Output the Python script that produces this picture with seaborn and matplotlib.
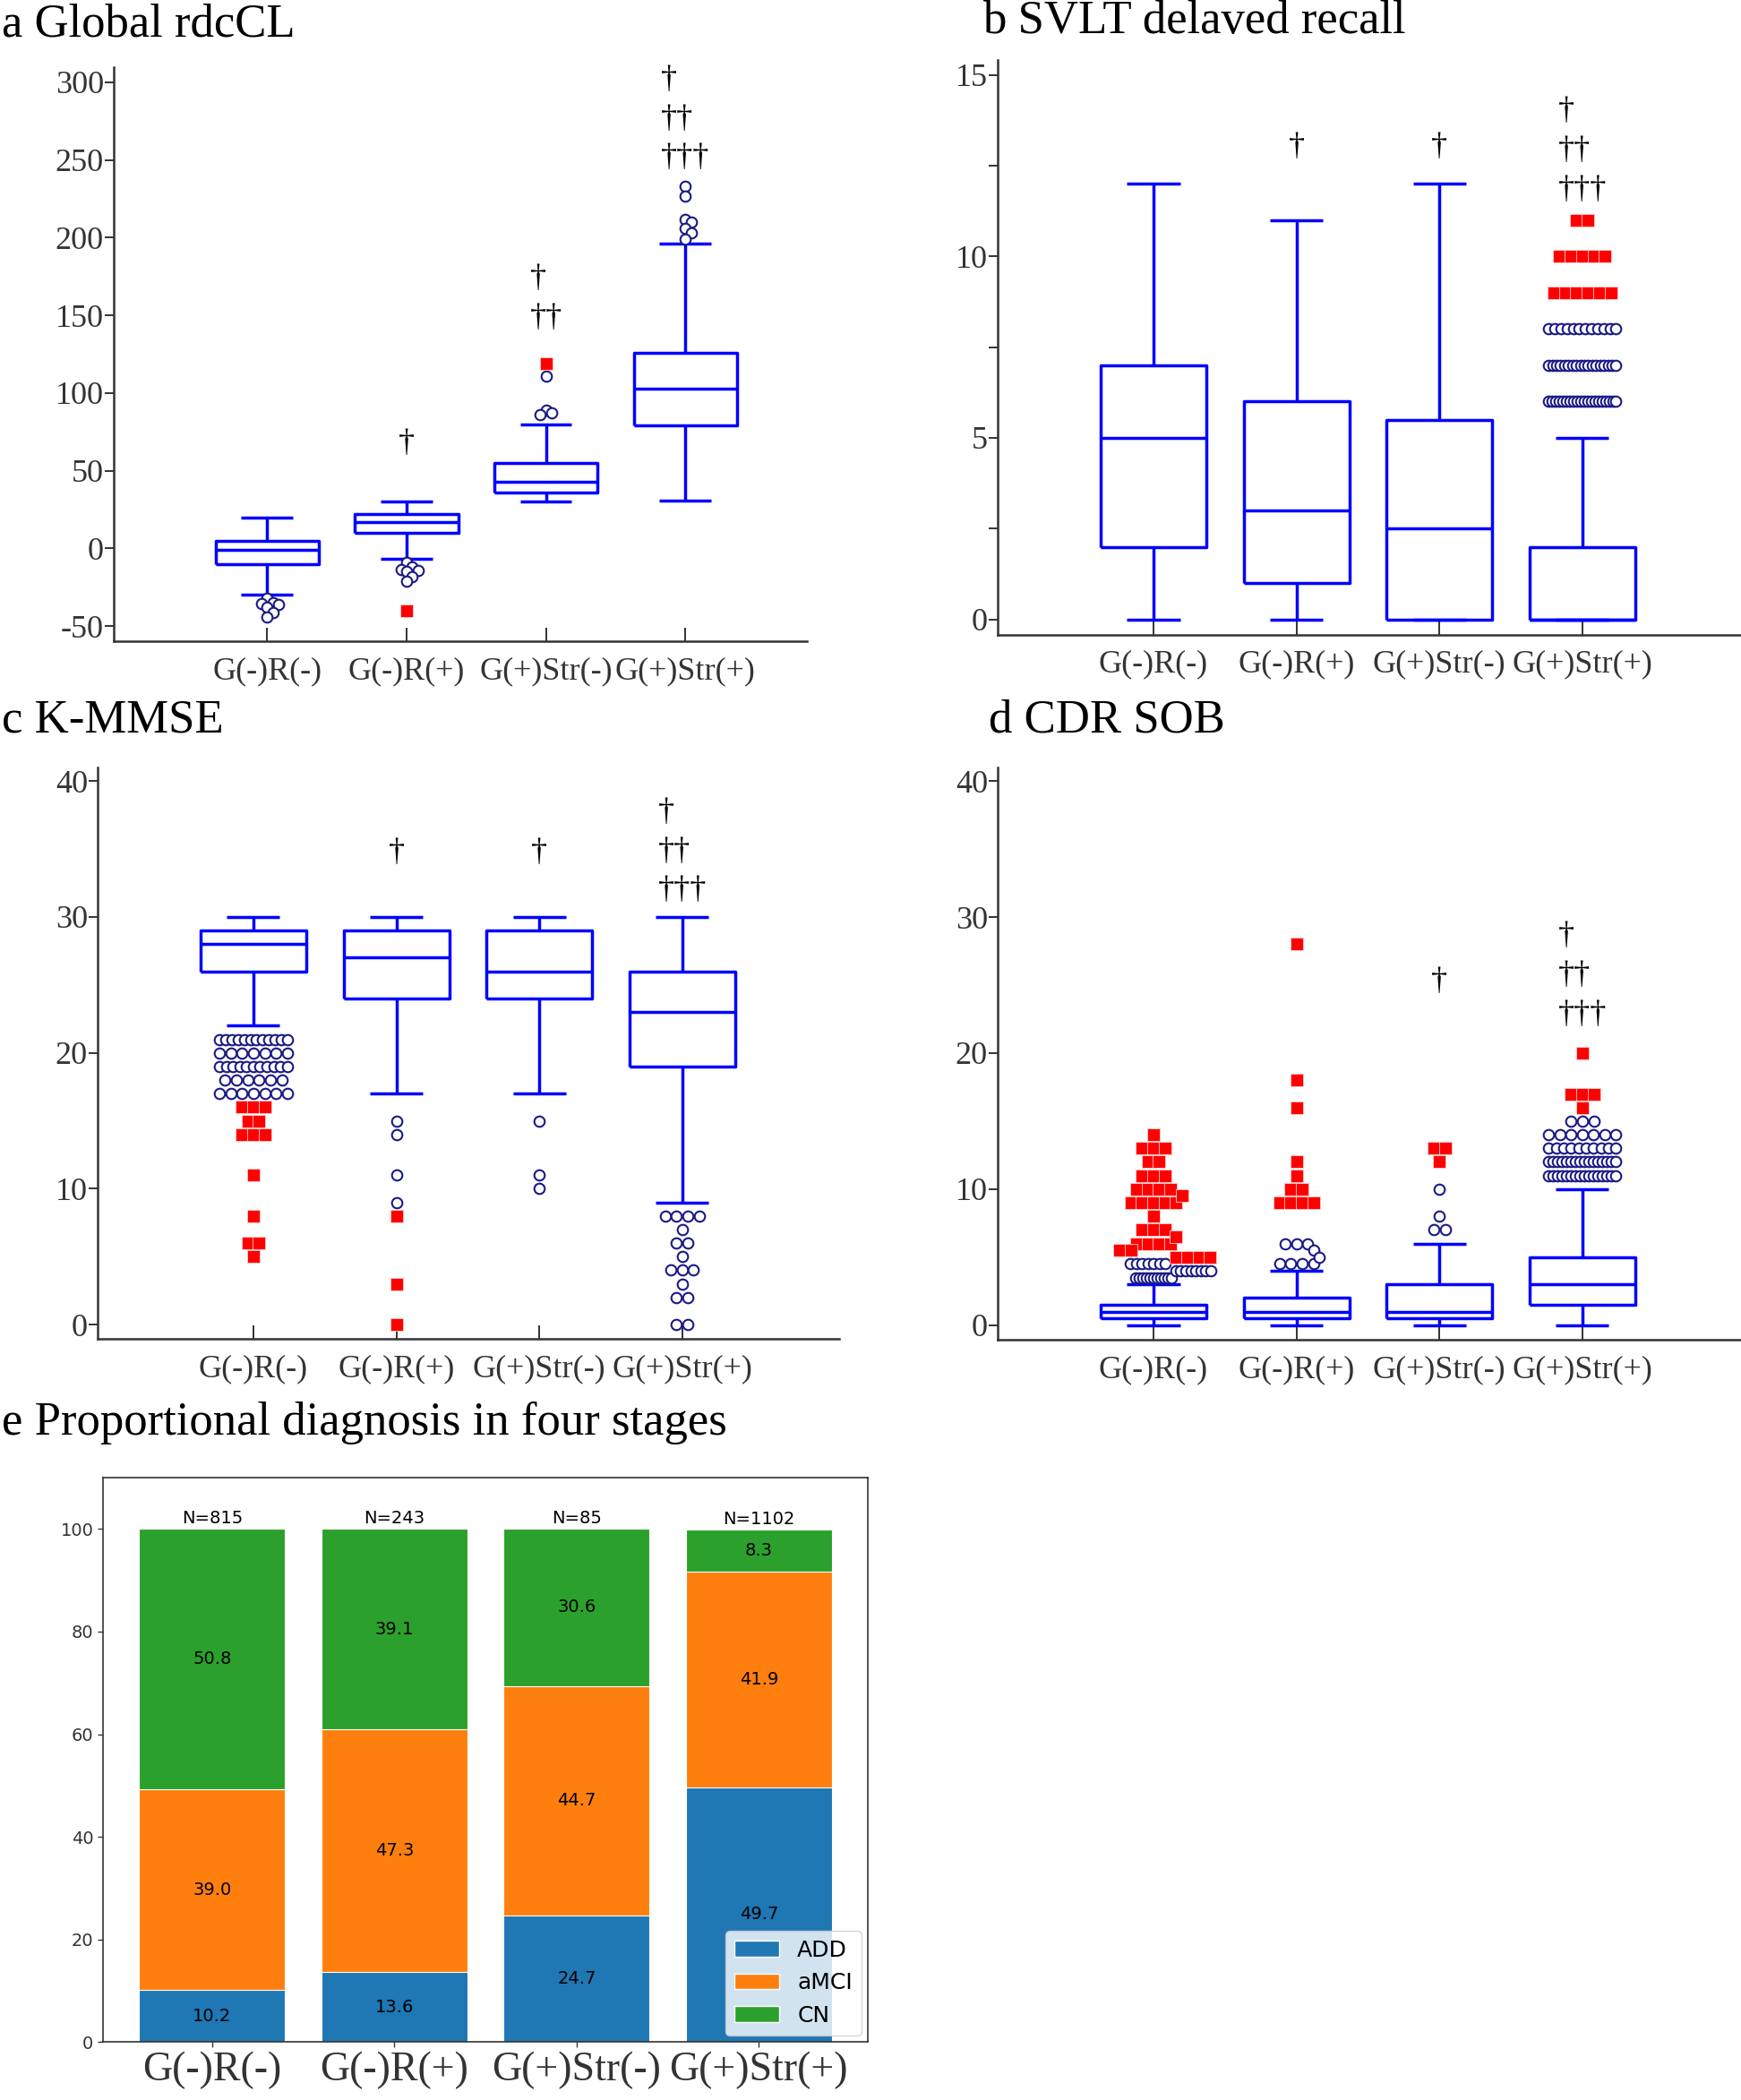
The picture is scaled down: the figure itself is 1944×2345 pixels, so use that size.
import numpy as np
import matplotlib
matplotlib.use("Agg")
import matplotlib.pyplot as plt
from matplotlib.patches import Patch
import seaborn as sns

sns.set_style("ticks", {"axes.edgecolor": "0.2", "text.color": "black",
                        "xtick.color": "0.2", "ytick.color": "0.2"})
plt.rcParams["font.family"] = ["Liberation Serif", "DejaVu Sans"]
plt.rcParams["axes.unicode_minus"] = False

groups = ["G(-)R(-)", "G(-)R(+)", "G(+)Str(-)", "G(+)Str(+)"]

# a  Global rdcCL
cl_whislo = [-30, -7, 30, 31]
cl_q1 = [-10, 10, 36, 79]
cl_med = [-1, 17, 43, 103]
cl_q3 = [5, 22, 55, 126]
cl_whishi = [20, 30, 80, 196]
cl_out = [[-32, -35, -35.5, -36, -38, -41.5, -44],
          [-9, -12, -13.5, -14, -15, -18, -21],
          [86, 87, 89, 111],
          [199, 203, 206, 210, 212, 227, 233]]
cl_far = [[], [-40], [119], []]
cl_marks = ["", "†", "†\n††", "†\n††\n†††"]
cl_marks_y = [0, 67.6, 160.8, 276.3]

# b  SVLT delayed recall
svlt_whislo = [0, 0, 0, 0]
svlt_q1 = [2, 1, 0, 0]
svlt_med = [5, 3, 2.5, 0]
svlt_q3 = [7, 6, 5.5, 2]
svlt_whishi = [12, 11, 12, 5]
svlt_out = [[], [], [], [6] * 20 + [7] * 18 + [8] * 12]
svlt_far = [[], [], [], [9] * 6 + [10] * 5 + [11] * 2]
svlt_marks = ["", "†", "†", "†\n††\n†††"]
svlt_marks_y = [0, 13.0, 13.0, 12.9]

# c  K-MMSE
mmse_whislo = [22, 17, 17, 9]
mmse_q1 = [26, 24, 24, 19]
mmse_med = [28, 27, 26, 23]
mmse_q3 = [29, 29, 29, 26]
mmse_whishi = [30, 30, 30, 30]
mmse_out = [[21] * 12 + [20] * 7 + [19] * 11 + [18] * 6 + [17] * 7,
            [15, 14, 11, 9],
            [15, 11, 10],
            [8] * 4 + [7] + [6] * 2 + [5] + [4] * 3 + [3] + [2] * 2 + [0] * 2]
mmse_far = [[16] * 3 + [15] * 2 + [14] * 3 + [11, 8, 6, 6, 5], [8, 3, 0], [], []]
mmse_marks = ["", "†", "†", "†\n††\n†††"]
mmse_marks_y = [0, 34.7, 34.7, 34.8]

# d  CDR SOB
cdr_whislo = [0, 0, 0, 0]
cdr_q1 = [0.5, 0.5, 0.5, 1.5]
cdr_med = [1, 1, 1, 3]
cdr_q3 = [1.5, 2, 3, 5]
cdr_whishi = [3, 4, 6, 10]
cdr_out = [[3.5] * 11 + [4] * 8 + [4.5] * 7,
           [6] * 3 + [5.5, 5] + [4.5] * 4,
           [10, 8, 7, 7],
           [15] * 3 + [14] * 7 + [13] * 10 + [12] * 16 + [11] * 16]
cdr_far = [[14] + [13] * 3 + [12] * 2 + [11] * 3 + [10] * 4 + [9.5] + [9] * 5 + [8]
           + [7] * 3 + [6.5] + [6] * 4 + [5.5] * 2 + [5] * 4,
           [28, 18, 16, 12, 11, 10, 10, 9, 9, 9, 9],
           [13, 13, 12],
           [20, 17, 17, 17, 16]]
cdr_marks = ["", "", "†", "†\n††\n†††"]
cdr_marks_y = [0, 0, 25.2, 25.7]

# e  proportional diagnosis
stage_add = [10.2, 13.6, 24.7, 49.7]
stage_amci = [39.0, 47.3, 44.7, 41.9]
stage_cn = [50.8, 39.1, 30.6, 8.3]
stage_n = [815, 243, 85, 1102]

BLUE = "#0000ff"
NAVY = "#1a1a85"
RED = "#ff0000"
W, H = 1944, 2345
fig = plt.figure(figsize=(W / 100, H / 100), dpi=100)


def px_axes(left, top, right, bottom):
    return fig.add_axes([left / W, 1 - bottom / H, (right - left) / W, (bottom - top) / H])


def outlier_points(ax, pos, mild, far, row_w=88, diam=12.7):
    # spread equal values sideways in rows, nudge rows that would collide
    (x0, y0), (x1, y1) = ax.transData.transform([(0, 0), (1, 1)])
    ux, uy = x1 - x0, y1 - y0
    rows = []
    for kind, vals in (("o", mild), ("s", far)):
        if len(vals):
            v, n = np.unique(vals, return_counts=True)
            rows += [(int(c), float(val), kind) for val, c in zip(v, n)]
    rows.sort(key=lambda r: (-r[0], -r[1]))
    cands = [0]
    for k in range(1, 8):
        cands += [k, -k]
    placed = []
    pts = {"o": [], "s": []}
    for n, val, kind in rows:
        width = row_w if kind == "o" else 88
        step = diam if n == 1 else min(diam, (width - diam) / (n - 1))
        hw = step * (n - 1) / 2
        yp = val * uy
        best, best_score = 0.0, None
        for k in cands:
            c = k * diam / 2
            score = 0.0
            for py, pc, phw in placed:
                if abs(py - yp) < 0.8 * diam:
                    score += max(0.0, hw + phw + diam / 2 - abs(c - pc))
            if best_score is None or score < best_score - 1e-9:
                best, best_score = c, score
            if score == 0:
                break
        placed.append((yp, best, hw))
        offs = best + (np.arange(n) - (n - 1) / 2) * step
        pts[kind] += [(pos + o / ux, val) for o in offs]
    return pts


def box_panel(rect, xlim, ylim, yticks, whislo, q1, med, q3, whishi, mild, far,
              marks, marks_y, minor=None, narrow=None):
    ax = px_axes(*rect)
    ax.set_xlim(*xlim)
    ax.set_ylim(*ylim)
    stats = [dict(whislo=a, q1=b, med=c, q3=d, whishi=e)
             for a, b, c, d, e in zip(whislo, q1, med, q3, whishi)]
    line = dict(color=BLUE, lw=2.5, solid_capstyle="butt")
    ax.bxp(stats, positions=range(4), widths=0.74, showfliers=False,
           boxprops=line, whiskerprops=line, capprops=line, medianprops=line,
           manage_ticks=False)
    for i in range(4):
        pts = outlier_points(ax, i, mild[i], far[i],
                             row_w=narrow[i] if narrow else 88)
        if pts["o"]:
            xs, ys = zip(*pts["o"])
            ax.scatter(xs, ys, s=70, marker="o", facecolor="white",
                       edgecolor=NAVY, linewidth=1.5, zorder=3)
        if pts["s"]:
            xs, ys = zip(*pts["s"])
            ax.scatter(xs, ys, s=95, marker="s", color=RED, edgecolor="#ffd0d0",
                       linewidth=0.6, zorder=3)
        if marks[i]:
            ax.text(i, marks_y[i], marks[i], ha="center", va="center",
                    multialignment="left", fontsize=26, linespacing=1.43)
    ax.set_xlim(*xlim)
    ax.set_ylim(*ylim)
    ax.set_xticks(range(4), groups, fontsize=26)
    ax.set_yticks(yticks)
    ax.set_yticklabels([str(t) for t in yticks], fontsize=26)
    if minor:
        ax.set_yticks(minor, minor=True)
    ax.tick_params(axis="x", direction="in", length=11, width=1.4, pad=12)
    ax.tick_params(axis="y", which="both", direction="out", length=7, width=1.4, pad=1)
    sns.despine(ax=ax)
    for s in ("left", "bottom"):
        ax.spines[s].set_linewidth(1.8)
    return ax


box_panel((127, 74.6, 900.7, 716.4), (-1.10, 3.87), (-60, 310), range(-50, 301, 50),
          cl_whislo, cl_q1, cl_med, cl_q3, cl_whishi, cl_out, cl_far, cl_marks, cl_marks_y)
box_panel((1114, 67, 1944, 709), (-1.09, 4.11), (-0.43, 15.41), [0, 5, 10, 15],
          svlt_whislo, svlt_q1, svlt_med, svlt_q3, svlt_whishi, svlt_out, svlt_far,
          svlt_marks, svlt_marks_y, minor=[2.5, 7.5, 12.5])
box_panel((109, 856.6, 937.3, 1495.4), (-1.09, 4.10), (-1.07, 41.03), range(0, 41, 10),
          mmse_whislo, mmse_q1, mmse_med, mmse_q3, mmse_whishi, mmse_out, mmse_far,
          mmse_marks, mmse_marks_y)
box_panel((1114, 856.6, 1944, 1496.4), (-1.09, 4.11), (-1.1, 41.03), range(0, 41, 10),
          cdr_whislo, cdr_q1, cdr_med, cdr_q3, cdr_whishi, cdr_out, cdr_far,
          cdr_marks, cdr_marks_y, narrow=[52, 88, 88, 88])

# panel e: stacked bars drawn as cumulative layers, tallest first
ax = px_axes(114.8, 1650, 969.4, 2280.3)
cum_amci = np.add(stage_add, stage_amci)
cum_cn = cum_amci + np.array(stage_cn)
layers = [(cum_cn, "#2ca02c"), (cum_amci, "#ff7f0e"), (np.array(stage_add), "#1f77b4")]
for heights, col in layers:
    sns.barplot(x=groups, y=heights, color=col, saturation=1, width=0.8, errorbar=None,
                edgecolor="white", linewidth=0.8, ax=ax)
bottoms = [np.zeros(4), np.array(stage_add), cum_amci]
for vals, base in zip([stage_add, stage_amci, stage_cn], bottoms):
    for i, v in enumerate(vals):
        ax.text(i, base[i] + v / 2, f"{v:.1f}", ha="center", va="center",
                fontsize=14, family="DejaVu Sans")
for i, n in enumerate(stage_n):
    ax.text(i, cum_cn[i] + 0.4, f"N={n}", ha="center", va="bottom",
            fontsize=14, family="DejaVu Sans")
ax.set_xlim(-0.6, 3.6)
ax.set_ylim(0, 110)
ax.set_yticks(range(0, 101, 20))
ax.set_yticklabels([str(t) for t in range(0, 101, 20)], fontsize=14, family="DejaVu Sans")
ax.set_xticks(range(4), groups, fontsize=33, family="Liberation Serif")
ax.set_xlabel("")
ax.tick_params(direction="out", length=4, width=1)
for s in ax.spines.values():
    s.set_visible(True)
    s.set_linewidth(1.2)
handles = [Patch(facecolor="#1f77b4", label="ADD"),
           Patch(facecolor="#ff7f0e", label="aMCI"),
           Patch(facecolor="#2ca02c", label="CN")]
ax.legend(handles=handles, loc="lower right", prop={"family": "DejaVu Sans", "size": 18},
          borderaxespad=0.3)

titles = [("a Global rdcCL", 2, 40.8), ("b SVLT delaved recall", 1097, 37.3),
          ("c K-MMSE", 2, 817.8), ("d CDR SOB", 1103.5, 817.8),
          ("e Proportional diagnosis in four stages", 2, 1602)]
for txt, x, y in titles:
    fig.text(x / W, 1 - y / H, txt, fontsize=38, va="baseline", ha="left")

fig.savefig("out.png", dpi=100)
